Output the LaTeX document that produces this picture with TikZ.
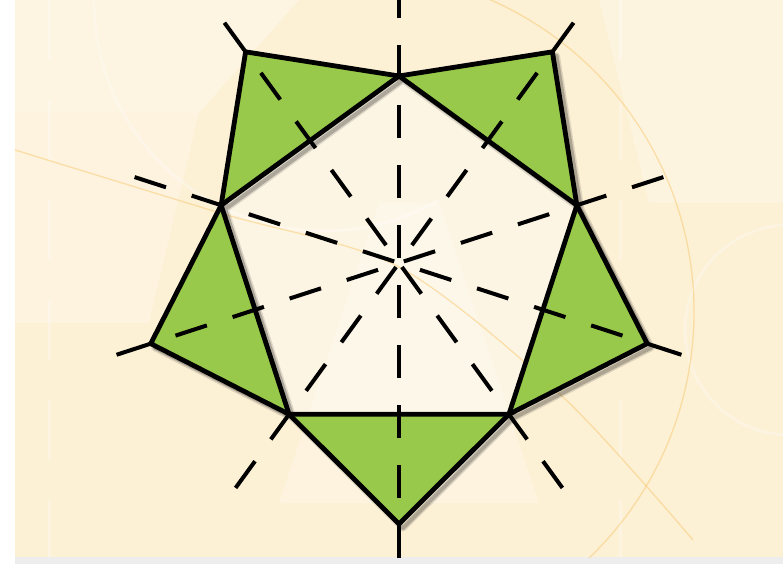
\documentclass[tikz,border=0pt]{standalone}
\usetikzlibrary{calc}
\definecolor{cream}{RGB}{252,240,213}
\definecolor{creamlt}{RGB}{254,246,230}
\definecolor{leaf}{RGB}{152,201,74}
\definecolor{rim}{RGB}{250,200,110}

\begin{document}
\begin{tikzpicture}[x=1pt, y=1pt,
  edge/.style={line width=4.8pt, line join=round},
  axis/.style={line width=4pt, dash pattern=on 33pt off 27pt},
  tail/.style={line width=4pt},
  shade/.style={draw=black, line join=round},
  tri/.style={fill=leaf},
  glow/.style={draw=white, line width=3pt, opacity=0.3},
  streak/.style={draw=rim, line width=1.3pt, opacity=0.5}
]
\useasboundingbox (-399,-301) rectangle (384,263);
\fill[white] (-399,-301) rectangle (384,263);
\fill[black!7] (-384,-301) rectangle (384,-294);
\fill[cream] (-384,-294) rectangle (384,263);

% corners of the figure
\foreach \k in {0,...,4} {
  \coordinate (i\k) at (90+72*\k:187);
  \coordinate (o\k) at (126+72*\k:261);
  \coordinate (a\k) at (90+72*\k:278);
  \coordinate (t\k) at (270+72*\k:297);
}

\begin{scope}
\clip (-384,-294) rectangle (384,263);
% faint background
\fill[creamlt, opacity=0.8] (-384,263) -- (-100,263) -- (-200,150) -- (-384,150) -- cycle;
\fill[creamlt, opacity=0.6] (-384,150) -- (-200,150) -- (-250,-60) -- (-384,-60) -- cycle;
\fill[creamlt, opacity=0.6] (-120,-240) -- (-20,60) -- (40,60) -- (140,-240) -- cycle;
\fill[creamlt, opacity=0.7] (200,263) -- (384,263) -- (384,60) -- (250,60) -- cycle;
\fill[white, opacity=0.35] (i0) -- (i1) -- (i2) -- (i3) -- (i4) -- cycle;
\draw[glow] (-305,262) arc[start angle=180, end angle=300, radius=230];
\draw[glow] (391,-67) circle[radius=105];
\draw[glow, dash pattern=on 60pt off 40pt] (221,263) -- (221,-294);
\draw[glow, dash pattern=on 60pt off 40pt] (-349,263) -- (-349,-294);
\draw[streak] (-46,-49) ++(80:341) arc[start angle=80, end angle=-80, radius=341];
\draw[streak] plot[smooth] coordinates {(-384,113) (-179,50) (0,-4) (164,-134) (294,-277)};

% soft shadow
\begin{scope}[transform canvas={shift={(4pt,-4pt)}}]
\draw[shade, line width=7pt, opacity=0.12] (i0) -- (o0) -- (i1) -- (o1) -- (i2) -- (o2) -- (i3) -- (o3) -- (i4) -- (o4) -- cycle (i0) -- (i1) -- (i2) -- (i3) -- (i4) -- cycle;
\draw[shade, line width=4pt, opacity=0.22] (i0) -- (o0) -- (i1) -- (o1) -- (i2) -- (o2) -- (i3) -- (o3) -- (i4) -- (o4) -- cycle (i0) -- (i1) -- (i2) -- (i3) -- (i4) -- cycle;
\end{scope}

% green flaps
\fill[tri] (i0) -- (o0) -- (i1) -- cycle;
\fill[tri] (i1) -- (o1) -- (i2) -- cycle;
\fill[tri] (i2) -- (o2) -- (i3) -- cycle;
\fill[tri] (i3) -- (o3) -- (i4) -- cycle;
\fill[tri] (i4) -- (o4) -- (i0) -- cycle;
\draw[edge] (i0) -- (o0) -- (i1) -- (o1) -- (i2) -- (o2) -- (i3) -- (o3) -- (i4) -- (o4) -- cycle;
\draw[edge] (i0) -- (i1) -- (i2) -- (i3) -- (i4) -- cycle;

% mirror lines
\foreach \k in {0,...,4} {
  \pgfmathtruncatemacro\j{mod(\k+2,5)}
  \draw[axis] (a\k) -- (o\j);
  \draw[tail] (o\j) -- (t\k);
}
\end{scope}
\end{tikzpicture}
\end{document}
